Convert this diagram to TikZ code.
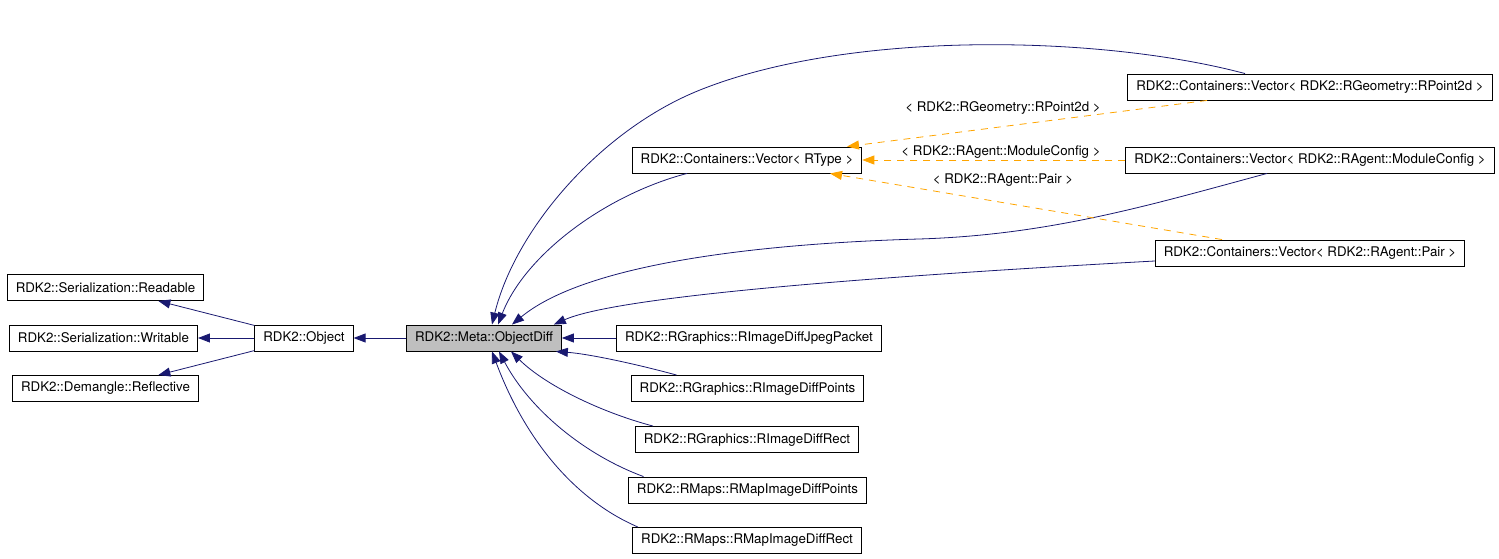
\documentclass[tikz,border=0pt]{standalone}
\usepackage{fontspec}
\setmainfont{TeX Gyre Heros}
\usetikzlibrary{arrows.meta}
\definecolor{InhBlue}{RGB}{25,25,112}
\definecolor{TmplOrange}{RGB}{255,165,0}
\definecolor{BaseGray}{RGB}{191,191,191}
\tikzset{
	cls/.style={draw=black,fill=white,line width=0.9pt,inner xsep=8.5pt,inner ysep=0pt,
		minimum height=26pt,font=\fontsize{13.3}{16}\selectfont},
	focus/.style={cls,fill=BaseGray},
	inh/.style={draw=InhBlue,line width=0.8pt,-{Triangle[length=12pt,width=9pt]}},
	tmpl/.style={draw=TmplOrange,line width=0.8pt,dash pattern=on 7pt off 6pt,
		-{Triangle[length=12pt,width=9pt]}},
	lbl/.style={inner sep=0pt,font=\fontsize{13.3}{16}\selectfont},
}

\begin{document}
\begin{tikzpicture}[x=1pt,y=-1pt]
	\useasboundingbox (0,0) rectangle (1499,559);
	% base classes
	\node[cls] (read) at (105.5,287.5) {RDK2::Serialization::Readable};
	\node[cls] (writ) at (103.5,338) {RDK2::Serialization::Writable};
	\node[cls] (refl) at (105.5,388.5) {RDK2::Demangle::Reflective};
	\node[cls] (obj) at (304,338) {RDK2::Object};
	\node[focus] (diff) at (484,338) {RDK2::Meta::ObjectDiff};
	% derived classes
	\node[cls] (jpeg) at (749,338) {RDK2::RGraphics::RImageDiffJpegPacket};
	\node[cls] (idpts) at (747.5,388.5) {RDK2::RGraphics::RImageDiffPoints};
	\node[cls] (idrect) at (747,439.5) {RDK2::RGraphics::RImageDiffRect};
	\node[cls] (mpts) at (747.5,490) {RDK2::RMaps::RMapImageDiffPoints};
	\node[cls] (mrect) at (747,540.5) {RDK2::RMaps::RMapImageDiffRect};
	% templates
	\node[cls] (vrt) at (747,160) {RDK2::Containers::Vector< RType >};
	\node[cls] (vpt) at (1310,87) {RDK2::Containers::Vector< RDK2::RGeometry::RPoint2d >};
	\node[cls] (vmc) at (1310,160) {RDK2::Containers::Vector< RDK2::RAgent::ModuleConfig >};
	\node[cls] (vpair) at (1310,253) {RDK2::Containers::Vector< RDK2::RAgent::Pair >};

	\draw[inh] (obj) -- (read);
	\draw[inh] (obj) -- (writ);
	\draw[inh] (obj) -- (refl);
	\draw[inh] (diff) -- (obj);
	\draw[inh] (jpeg) -- (diff);
	\draw[inh] ([xshift=-71pt]idpts.north) .. controls (640,365) and (590,354) .. ([xshift=-6pt]diff.south east);
	\draw[inh] ([xshift=-94pt]idrect.north) .. controls (600,412) and (545,385) .. ([xshift=27pt]diff.south);
	\draw[inh] ([xshift=-104pt]mpts.north) .. controls (585,455) and (530,410) .. ([xshift=15pt]diff.south);
	\draw[inh] ([xshift=-109pt]mrect.north) .. controls (575,500) and (525,440) .. ([xshift=8pt]diff.south);
	\draw[inh] ([xshift=-60pt]vrt.south) .. controls (605,195) and (525,255) .. ([xshift=14pt]diff.north);
	\draw[inh] ([xshift=-65pt]vpt.north) .. controls (1100,35) and (850,30) .. (700,90)
		.. controls (600,130) and (515,230) .. ([xshift=8pt]diff.north);
	\draw[inh] ([xshift=-43pt]vmc.south) .. controls (1150,205) and (1050,235) .. (919,239)
		.. controls (780,243) and (590,260) .. ([xshift=28pt]diff.north);
	\draw[inh] ([yshift=-8pt]vpair.west) .. controls (900,275) and (620,295) .. ([xshift=-8pt]diff.north east);

	% template instances
	\draw[tmpl] ([xshift=-103pt]vpt.south) -- ([xshift=100pt]vrt.north);
	\draw[tmpl] (vmc) -- (vrt);
	\draw[tmpl] ([xshift=-88pt]vpair.north) -- ([xshift=83pt]vrt.south);
	\node[lbl] (lpt) at (1003,108) {< RDK2::RGeometry::RPoint2d >};
	\node[lbl] (lmc) at (1001,152) {< RDK2::RAgent::ModuleConfig >};
	\node[lbl] (lpair) at (1003,180) {< RDK2::RAgent::Pair >};
\end{tikzpicture}
\end{document}
